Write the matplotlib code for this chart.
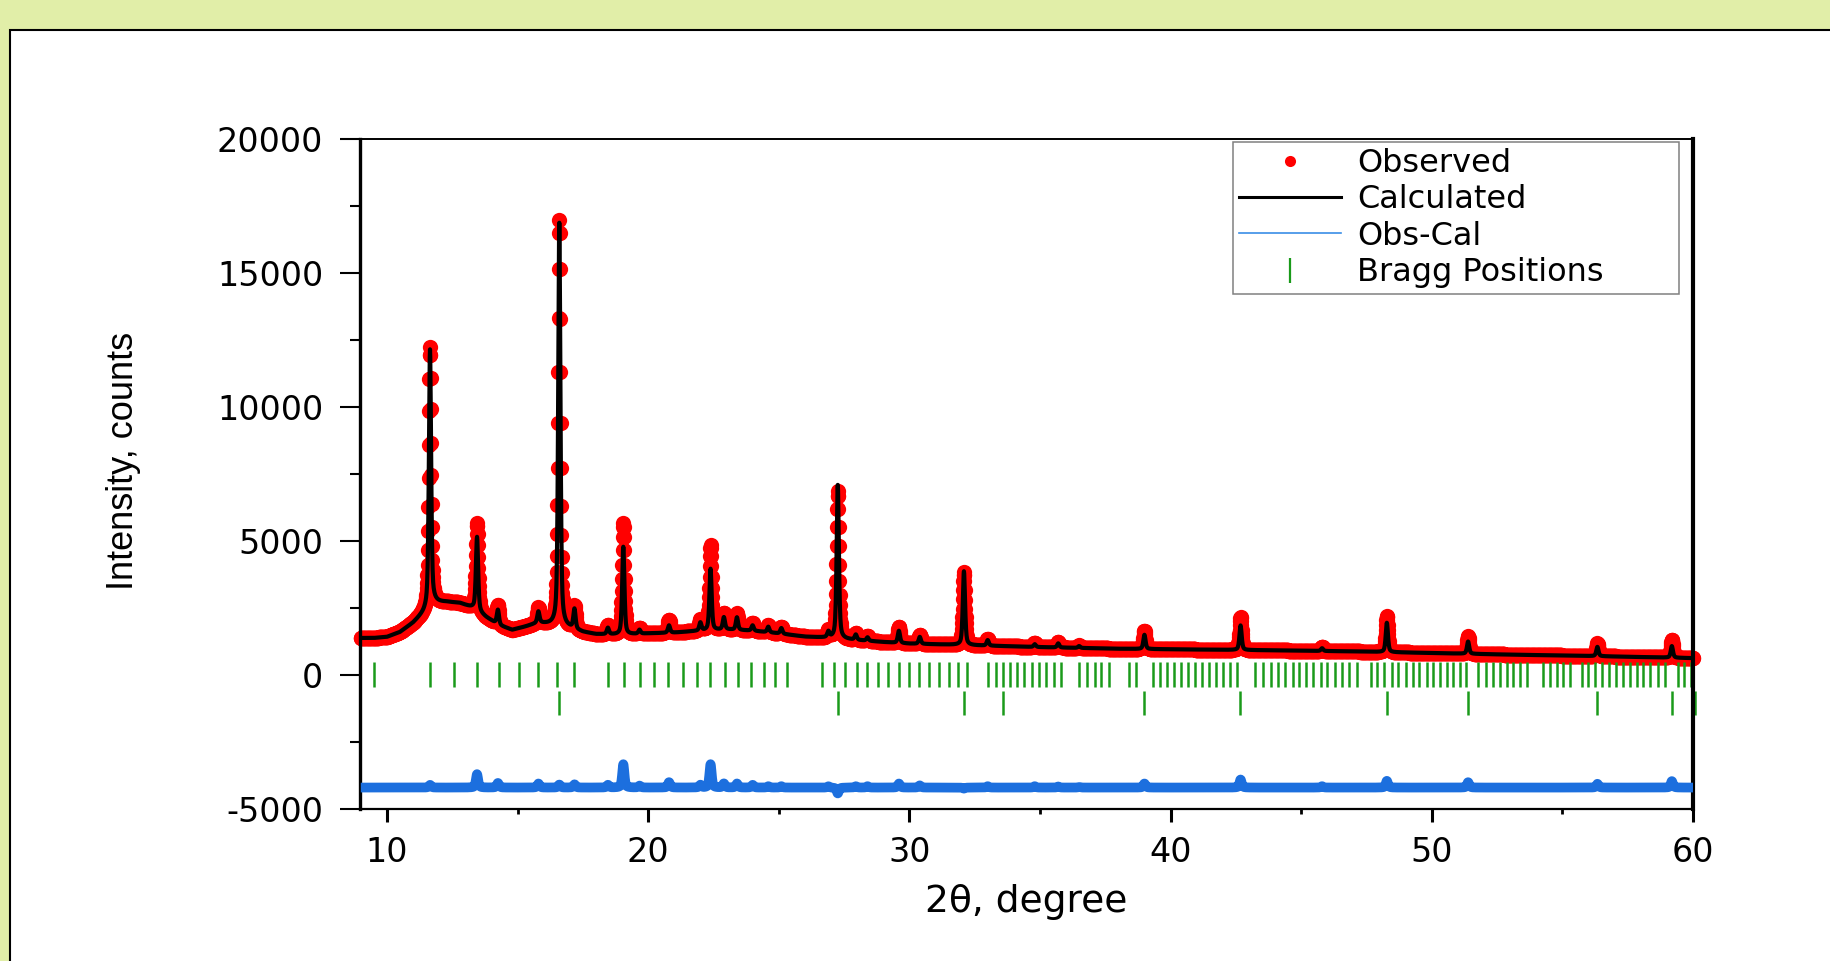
import numpy as np
import matplotlib
matplotlib.use("Agg")
import matplotlib.pyplot as plt
from matplotlib.lines import Line2D
from matplotlib.patches import Rectangle
from matplotlib.ticker import MultipleLocator

plt.rcParams['axes.unicode_minus'] = False
plt.rcParams['font.family'] = ['DejaVu Sans']

# ---------------- data ----------------
two_theta_start = 9.0
two_theta_end = 60.0
two_theta_step = 0.01

# background level of the pattern (counts)
bg_x = [9.0, 9.5, 10.0, 10.5, 11.0, 11.4, 11.8, 12.3, 12.8, 13.3, 13.8, 14.3,
        14.8, 15.3, 15.8, 16.3, 17.0, 17.5, 18.0, 19.0, 20.0, 21.0, 22.0,
        23.0, 24.0, 25.0, 26.0, 27.0, 28.0, 29.0, 30.0, 32.0, 35.0, 38.0,
        41.0, 44.0, 47.0, 50.0, 53.0, 56.0, 60.0]
bg_y = [1380, 1380, 1420, 1600, 1940, 2300, 2700, 2720, 2680, 2500, 2150, 1850,
        1680, 1800, 1940, 1870, 1750, 1600, 1520, 1500, 1550, 1580, 1650,
        1700, 1650, 1550, 1430, 1380, 1300, 1230, 1170, 1120, 1040, 980,
        950, 920, 880, 820, 760, 710, 630]

# reflections: position, calculated peak top, observed peak top (counts)
peak_pos = [11.65, 13.45, 14.25, 15.80, 16.60, 17.18, 18.46, 19.05, 19.67,
            20.80, 22.00, 22.39, 22.90, 23.40, 24.00, 24.60, 25.10, 26.90,
            27.26, 27.95, 28.40, 29.60, 30.40, 32.09, 33.00, 34.80, 35.70,
            36.50, 39.00, 42.68, 45.80, 48.28, 51.39, 56.34, 59.19]
peak_calc_top = [12150, 5150, 2430, 2350, 16870, 2430, 1750, 4780, 1680,
                 1850, 1950, 3960, 2150, 2150, 1850, 1800, 1750, 1600,
                 7090, 1500, 1400, 1650, 1420, 3870, 1300, 1150, 1180,
                 1080, 1500, 1850, 1000, 1950, 1250, 1050, 1080]
peak_obs_top = [12250, 5650, 2600, 2500, 16980, 2550, 1850, 5650, 1750,
                2050, 2050, 4830, 2300, 2300, 1950, 1850, 1800, 1650,
                6870, 1550, 1450, 1800, 1500, 3830, 1350, 1200, 1220,
                1100, 1650, 2150, 1050, 2200, 1450, 1190, 1320]

# Bragg positions of the two phases
bragg_phase1 = [9.49, 11.64, 12.57, 13.45, 14.28, 15.04, 15.79, 16.51, 17.17,
                18.46, 19.07, 19.67, 20.24, 20.77, 21.34, 21.87, 22.38, 22.93,
                23.44, 23.92, 24.42, 24.87, 25.31, 26.66, 27.10, 27.54, 27.98,
                28.39, 28.79, 29.20, 29.59, 29.99, 30.37, 30.77, 31.13, 31.50,
                31.86, 32.21, 33.03, 33.30, 33.57, 33.85, 34.12, 34.40, 34.70,
                34.97, 35.25, 35.53, 35.80, 36.50, 36.80, 37.10, 37.35, 37.65,
                38.40, 38.67, 39.33, 39.60, 39.87, 40.13, 40.40, 40.67, 40.93,
                41.20, 41.47, 41.73, 42.00, 42.27, 42.55, 43.25, 43.55, 43.83,
                44.10, 44.38, 44.67, 44.93, 45.19, 45.47, 45.75, 46.00, 46.30,
                46.58, 46.84, 47.13, 47.66, 47.92, 48.18, 48.47, 48.72, 49.01,
                49.27, 49.52, 49.80, 50.06, 50.32, 50.57, 50.83, 51.08, 51.31,
                51.78, 52.06, 52.33, 52.61, 52.87, 53.12, 53.38, 53.66, 54.25,
                54.53, 54.78, 55.04, 55.29, 55.74, 55.99, 56.25, 56.51, 56.79,
                57.05, 57.33, 57.59, 57.85, 58.10, 58.36, 58.67, 58.93, 59.44,
                59.66, 59.91]
bragg_phase2 = [16.60, 27.28, 32.09, 33.57, 38.98, 42.66, 48.28, 51.39,
                56.33, 59.20, 60.08]

diff_offset = -4200

x_ticks = [10, 20, 30, 40, 50, 60]
y_ticks = [-5000, 0, 5000, 10000, 15000, 20000]
legend_labels = ['Observed', 'Calculated', 'Obs-Cal', 'Bragg Positions']

# ---------------- profiles ----------------
tt = np.round(np.arange(two_theta_start, two_theta_end + 1e-9, two_theta_step), 2)
background = np.interp(tt, bg_x, bg_y)


def pseudo_voigt(x, centre, fwhm=0.10, eta=0.5):
    d = (x - centre) / fwhm
    gauss = np.exp(-4.0 * np.log(2.0) * d ** 2)
    lorentz = 1.0 / (1.0 + 4.0 * d ** 2)
    return eta * lorentz + (1 - eta) * gauss


calc = background.copy()
obs = background.copy()
for p, ct, ot in zip(peak_pos, peak_calc_top, peak_obs_top):
    base = np.interp(p, bg_x, bg_y)
    shape = pseudo_voigt(tt, p)
    calc += (ct - base) * shape
    obs += (ot - base) * shape
diff = obs - calc + diff_offset

# ---------------- figure ----------------
W, H = 1830, 961
fig = plt.figure(figsize=(W / 100, H / 100), dpi=100)
fig.patch.set_facecolor('#e1eea8')
panel = Rectangle((10 / W, -0.05), 1.2, 1 - 30 / H + 0.05, transform=fig.transFigure,
                  facecolor='white', edgecolor='black', lw=1.5, zorder=-5)
fig.add_artist(panel)

ax = fig.add_axes([360 / W, (H - 809) / H, 1333 / W, 670 / H])
ax.set_xlim(8.97, 60.0)
ax.set_ylim(-5000, 20000)

ax.plot(tt, obs, 'o', color='#ff0000', ms=11, mec='none', zorder=2, clip_on=False)
ax.plot(tt, calc, '-', color='black', lw=3.0, zorder=3)
ax.plot(tt, diff, '-', color='#1c6fde', lw=7.0, zorder=3, solid_capstyle='butt')
ax.vlines(bragg_phase1, -430, 480, color='#1a9a1a', lw=1.8, zorder=2)
ax.vlines(bragg_phase2, -1480, -610, color='#1a9a1a', lw=1.8, zorder=2, clip_on=False)

ax.set_xticks(x_ticks)
ax.set_yticks(y_ticks)
ax.xaxis.set_minor_locator(MultipleLocator(5))
ax.yaxis.set_minor_locator(MultipleLocator(2500))
ax.tick_params(axis='y', which='major', direction='out', length=14.4, width=1.5,
               labelsize=24, pad=12)
ax.tick_params(axis='y', which='minor', direction='out', length=7.2, width=1.5)
ax.tick_params(axis='x', which='major', direction='out', length=9.4, width=2.2,
               labelsize=24, pad=10)
ax.tick_params(axis='x', which='minor', direction='out', length=3.6, width=2.0)
ax.tick_params(top=False, right=False, which='both')

ax.spines['left'].set_linewidth(2.4)
ax.spines['right'].set_linewidth(3.0)
ax.spines['bottom'].set_linewidth(1.6)
ax.spines['top'].set_linewidth(1.4)

ax.set_xlabel('2θ, degree', fontsize=27)
ax.xaxis.set_label_coords(0.5, -0.112)
ax.set_ylabel('Intensity, counts', fontsize=26,
              family=['Liberation Sans Narrow', 'Liberation Sans', 'DejaVu Sans'])
ax.yaxis.set_label_coords(-0.164, 0.519)

handles = [
    Line2D([], [], ls='none', marker='o', color='#ff0000', ms=8, mec='none'),
    Line2D([], [], color='black', lw=2.2),
    Line2D([], [], color='#3a8ee6', lw=1.2),
    Line2D([], [], ls='none', marker='|', color='#1a9a1a', ms=18, mew=1.6),
]
leg = ax.legend(handles, legend_labels, loc='upper left',
                bbox_to_anchor=(0.655, 0.779, 0.3345, 0.2165), mode='expand',
                borderaxespad=0, fontsize=23, labelspacing=0.17,
                handlelength=3.2, handletextpad=0.5, borderpad=0.18,
                fancybox=False, framealpha=1, edgecolor='#808080')
leg.get_frame().set_linewidth(1.1)

fig.savefig('out.png', dpi=100, facecolor=fig.get_facecolor())
